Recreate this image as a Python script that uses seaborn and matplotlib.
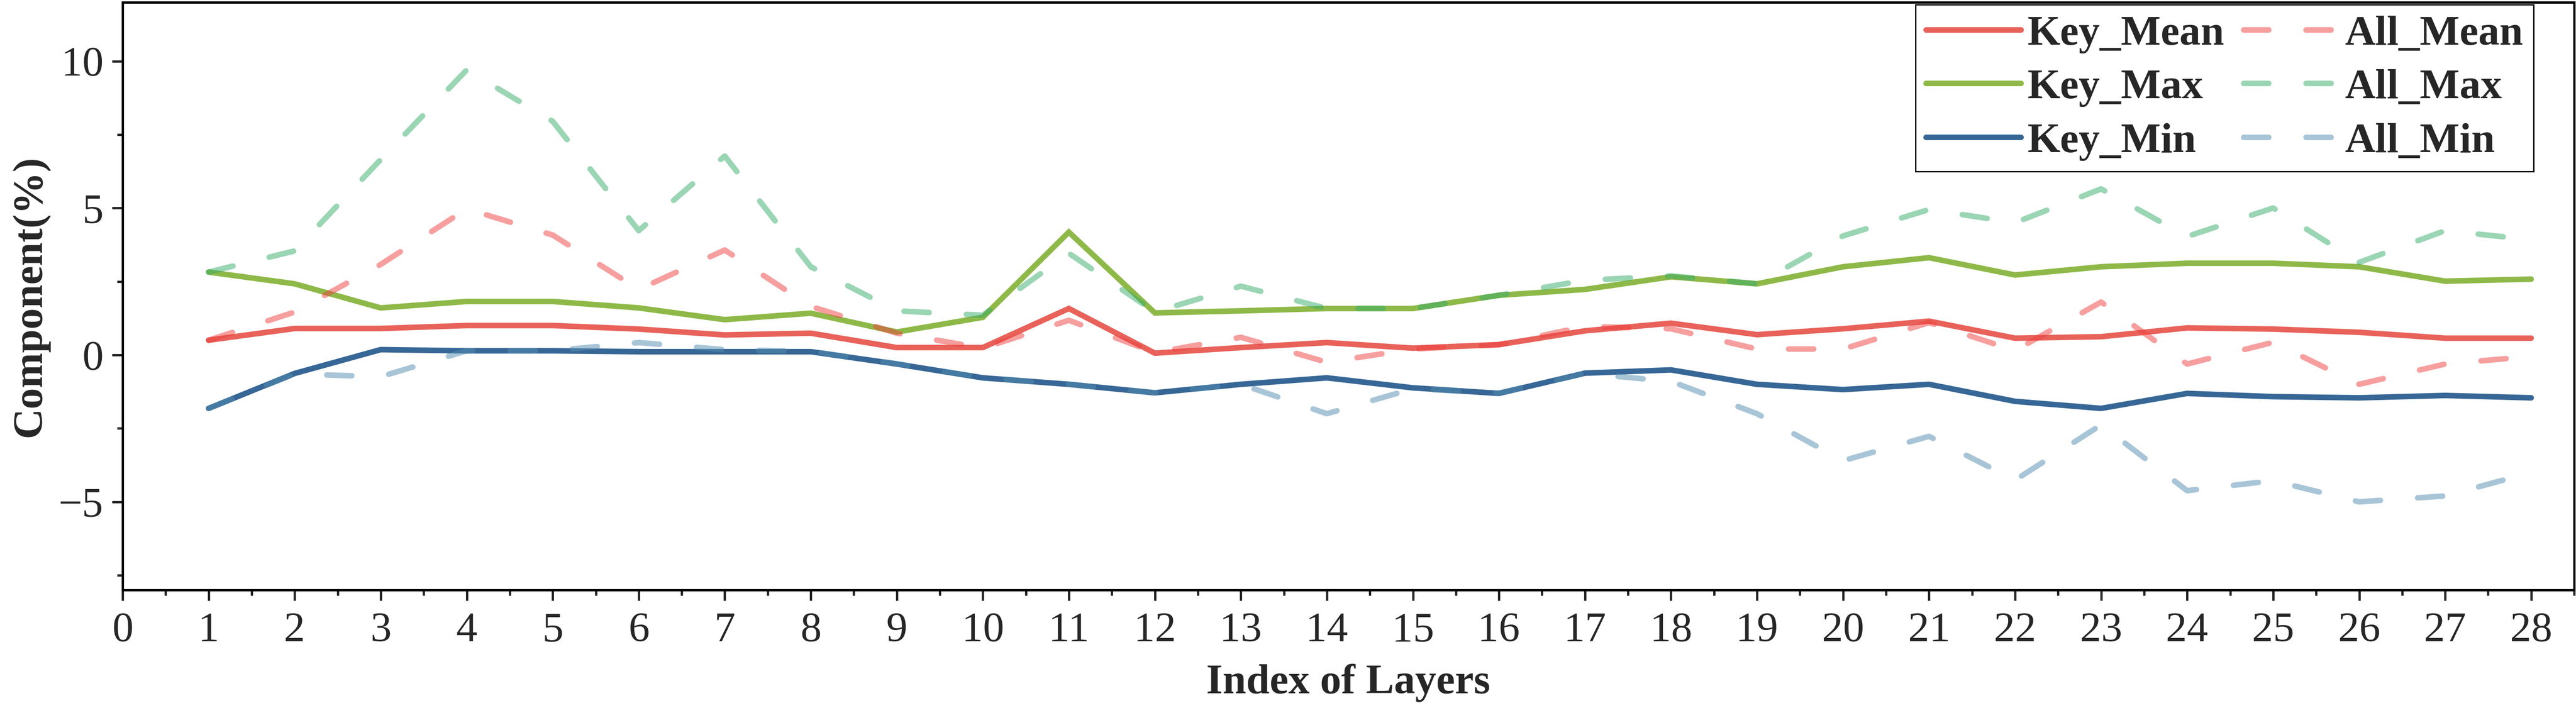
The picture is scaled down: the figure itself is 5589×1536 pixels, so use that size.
import numpy as np
import pandas as pd
import matplotlib
matplotlib.use('Agg')
import matplotlib.pyplot as plt
from matplotlib.ticker import MultipleLocator
import seaborn as sns

# 数据
layers = list(range(1, 29))
key_mean = [0.5, 0.9, 0.9, 1.0, 1.0, 0.88, 0.68, 0.74, 0.25, 0.25, 1.58, 0.06, 0.25, 0.42,
            0.23, 0.35, 0.82, 1.08, 0.69, 0.89, 1.15, 0.57, 0.62, 0.92, 0.88, 0.77, 0.57, 0.57]
key_max = [2.82, 2.42, 1.6, 1.82, 1.82, 1.6, 1.2, 1.42, 0.78, 1.28, 4.18, 1.43, 1.5, 1.58,
           1.58, 2.03, 2.23, 2.66, 2.42, 3.0, 3.31, 2.72, 3.0, 3.12, 3.12, 3.0, 2.51, 2.58]
key_min = [-1.82, -0.63, 0.18, 0.14, 0.14, 0.11, 0.11, 0.11, -0.31, -0.78, -1.0, -1.29, -1.0, -0.78,
           -1.12, -1.31, -0.62, -0.51, -1.0, -1.18, -1.0, -1.58, -1.82, -1.31, -1.42, -1.46, -1.38, -1.46]
all_mean = [0.5, 1.46, 3.08, 4.97, 4.08, 2.23, 3.57, 1.65, 0.74, 0.23, 1.18, 0.08, 0.6, -0.25,
            0.2, 0.35, 0.97, 0.89, 0.2, 0.2, 1.1, 0.15, 1.8, -0.31, 0.43, -1.0, -0.31, -0.05]
all_max = [2.82, 3.54, 6.65, 9.7, 7.95, 4.23, 6.77, 3.0, 1.5, 1.35, 3.46, 1.46, 2.34, 1.58,
           1.58, 2.03, 2.54, 2.69, 2.42, 4.05, 4.95, 4.5, 5.65, 4.03, 5.0, 3.15, 4.23, 3.92]
all_min = [-1.82, -0.65, -0.74, 0.14, 0.14, 0.42, 0.18, 0.12, -0.3, -0.78, -1.0, -1.29, -1.0, -2.0,
           -1.15, -1.3, -0.63, -0.9, -2.0, -3.6, -2.77, -4.26, -2.38, -4.62, -4.28, -5.0, -4.8, -4.0]

df = pd.DataFrame({'layer': layers,
                   'Key_Mean': key_mean, 'Key_Max': key_max, 'Key_Min': key_min,
                   'All_Mean': all_mean, 'All_Max': all_max, 'All_Min': all_min})

# 基础设置
sns.set_theme(style='ticks')
plt.rcParams['font.family'] = ['Liberation Serif', 'DejaVu Serif']
plt.rcParams['axes.unicode_minus'] = True

fig = plt.figure(figsize=(18.63, 5.12), dpi=300)
ax = fig.add_axes([0.0476, 0.1667, 0.9517, 0.83])

lw = 2.9
solid = {'Key_Mean': '#E8625A', 'Key_Max': '#8EB948', 'Key_Min': '#376796'}
dashed = {'All_Mean': (0.937, 0.255, 0.247), 'All_Max': (0.216, 0.678, 0.42), 'All_Min': (0.325, 0.553, 0.694)}

for name, c in solid.items():
    sns.lineplot(data=df, x='layer', y=name, color=c, linewidth=lw, label=name,
                 solid_capstyle='round', solid_joinstyle='miter', ax=ax, zorder=2)
for name, c in dashed.items():
    sns.lineplot(data=df, x='layer', y=name, color=c, alpha=0.5, linewidth=lw, label=name,
                 linestyle=(0, (4.5, 6.7)), dash_capstyle='round', ax=ax, zorder=3)

ax.set_xlim(0, 28.5)
ax.set_ylim(-8, 12)
ax.xaxis.set_major_locator(MultipleLocator(1))
ax.xaxis.set_minor_locator(MultipleLocator(0.5))
ax.yaxis.set_major_locator(MultipleLocator(5))
ax.yaxis.set_minor_locator(MultipleLocator(2.5))
ax.tick_params(axis='both', which='major', direction='out', length=5.5, width=1.2, labelsize=22)
ax.tick_params(axis='both', which='minor', direction='out', length=2.9, width=1.2)
ax.tick_params(axis='x', which='major', pad=6)
ax.tick_params(axis='y', which='major', pad=4.5)
for s in ax.spines.values():
    s.set_linewidth(1.2)
    s.set_color('black')

ax.set_xlabel('Index of Layers', fontsize=22, fontweight='bold', labelpad=7)
ax.set_ylabel('Component(%)', fontsize=22, fontweight='bold', labelpad=5)

leg = ax.legend(ncol=2, loc='upper right', bbox_to_anchor=(0.9835, 0.996), borderaxespad=0,
                frameon=True, fancybox=False, edgecolor='black', framealpha=1,
                prop={'family': 'Liberation Serif', 'weight': 'bold', 'size': 22},
                handlelength=2.25, handletextpad=0.15, columnspacing=0.45,
                labelspacing=0.36, borderpad=0.25)
leg.get_frame().set_linewidth(0.7)

fig.savefig('out.png', dpi=300)
